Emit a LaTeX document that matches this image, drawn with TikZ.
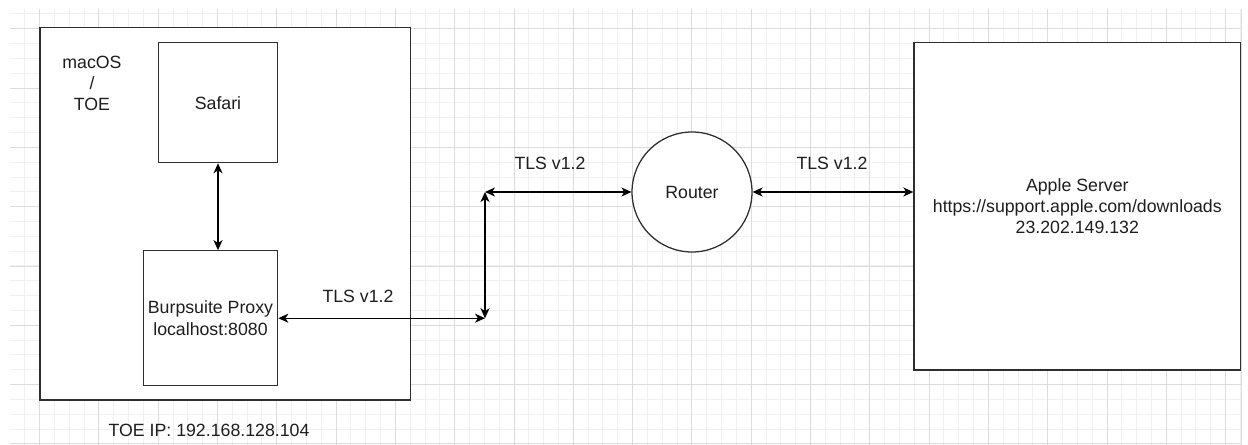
\documentclass[tikz,border=0pt]{standalone}
\usepackage{fontspec}
\setmainfont{Liberation Sans}
\usetikzlibrary{arrows.meta}
\definecolor{minorgrid}{HTML}{F0F0F0}
\definecolor{majorgrid}{HTML}{DCDCDC}
\definecolor{strokecol}{HTML}{2E2E2E}
\definecolor{textcol}{HTML}{1E1E1E}
\begin{document}
\begin{tikzpicture}[x=0.75pt,y=-0.75pt,
  box/.style={draw=strokecol, line width=0.95pt, fill=white, inner sep=0pt, font=\fontsize{13.3}{15.8}\selectfont, text=textcol, align=center},
  roundbox/.style={box, circle},
  lbl/.style={font=\fontsize{13.3}{15.8}\selectfont, text=textcol, align=center, inner sep=0pt},
  tip/.tip={Stealth[length=7.5pt,width=6.8pt,inset=2.2pt]},
  link/.style={draw=black, line width=0.95pt, tip-tip}]
\useasboundingbox (0,0) rectangle (1248,445);
\fill[white] (0,0) rectangle (1248,445);
% grid
\begin{scope}
\clip (10,9) rectangle (1242,445);
\foreach \i in {0,...,84} {
  \pgfmathsetmacro\xx{9.95+\i*14.825}
  \draw[minorgrid, line width=0.75pt] (\xx,9) -- (\xx,445);
}
\foreach \i in {0,...,30} {
  \pgfmathsetmacro\yy{13.97+\i*14.825}
  \draw[minorgrid, line width=0.75pt] (10,\yy) -- (1242,\yy);
}
\foreach \i in {0,...,21} {
  \pgfmathsetmacro\xx{39.6+\i*59.3}
  \draw[majorgrid, line width=0.75pt] (\xx,9) -- (\xx,445);
}
\foreach \i in {0,...,7} {
  \pgfmathsetmacro\yy{28.8+\i*59.3}
  \draw[majorgrid, line width=0.75pt] (10,\yy) -- (1242,\yy);
}
\end{scope}
\draw[majorgrid, line width=1pt] (1241.5,9) -- (1241.5,445);
% nodes
\node[box, minimum width=278pt, minimum height=279.2pt] (toe) at (225.3,213.8) {};
\node[lbl, font=\fontsize{13.3}{15.75}\selectfont] (toelbl) at (92,83) {macOS\\/\\TOE};
\node[box, minimum width=89.6pt, minimum height=90pt] (safari) at (218,102.7) {Safari};
\node[box, minimum width=100.8pt, minimum height=101.2pt] (burp) at (210.5,318.2) {Burpsuite Proxy\\[0.2pt]localhost:8080};
\node[roundbox, minimum size=90pt] (router) at (692,192) {Router};
\node[box, minimum width=245pt, minimum height=245.5pt] (apple) at (1077.3,206.3) {Apple Server\\https://support.apple.com/downloads\\23.202.149.132};
\node[lbl] (ip) at (209,430) {TOE IP: 192.168.128.104};
\node[lbl] (tls1) at (358,296) {TLS v1.2};
\node[lbl] (tls2) at (550,163) {TLS v1.2};
\node[lbl] (tls3) at (832,163) {TLS v1.2};
% junctions
\coordinate (j1) at (485,318.2);
\coordinate (j2) at (485,192);
% connectors
\draw[link] (safari.south) -- (safari.south |- burp.north);
\draw[link] (burp.east) -- (j1);
\draw[link] (j1) -- (j2);
\draw[link] (j2) -- (router.west);
\draw[link] (router.east) -- (router.east -| apple.west);
\end{tikzpicture}
\end{document}
